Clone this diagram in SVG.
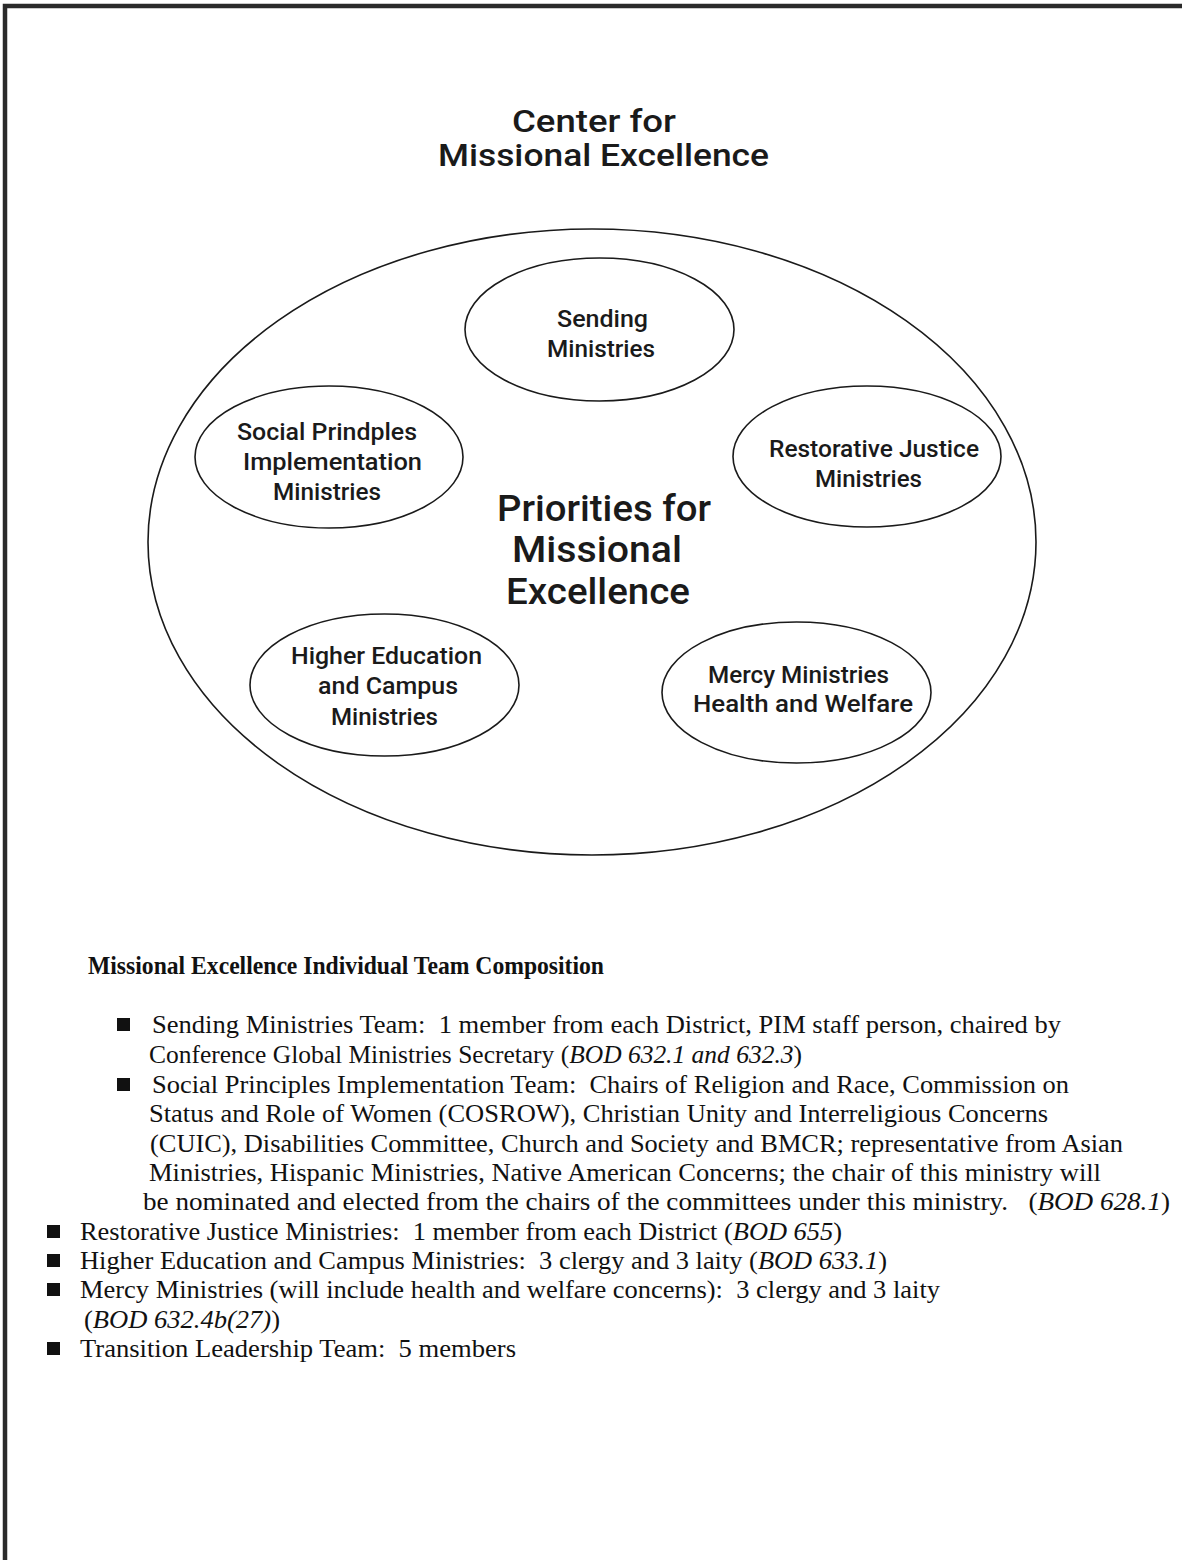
<svg xmlns="http://www.w3.org/2000/svg" width="1182" height="1560" viewBox="0 0 1182 1560">
  <style>
    .sans { font-family: Roboto, "Liberation Sans", Arial, sans-serif; font-weight: 500; fill: #1a1a1a; }
    .title { font-size: 31px; }
    .center { font-size: 36px; }
    .lbl { font-size: 24px; }
    .ell { fill: none; stroke: #1a1a1a; stroke-width: 1.6; }
    .head { font-family: "Liberation Serif", "Times New Roman", serif; font-weight: bold; font-size: 26px; fill: #111; }
    .body { font-family: "Liberation Serif", "Times New Roman", serif; font-size: 25px; fill: #111; }
    .it { font-style: italic; }
    .bul { fill: #111; }
  </style>
  <rect x="0" y="0" width="1182" height="1560" fill="#ffffff"/>
  <path d="M5 1560 V6 H1182" fill="none" stroke="#2a2a2a" stroke-width="4.5"/>

  <g id="title">
    <text class="sans title" x="512" y="132" textLength="164" lengthAdjust="spacingAndGlyphs">Center for</text>
    <text class="sans title" x="438" y="166" textLength="331" lengthAdjust="spacingAndGlyphs">Missional Excellence</text>
  </g>

  <g id="priorities">
    <ellipse class="ell" cx="592" cy="542" rx="444" ry="313"/>
    <text class="sans center" x="497" y="521" textLength="214" lengthAdjust="spacingAndGlyphs">Priorities for</text>
    <text class="sans center" x="512" y="562" textLength="170" lengthAdjust="spacingAndGlyphs">Missional</text>
    <text class="sans center" x="506" y="604" textLength="184" lengthAdjust="spacingAndGlyphs">Excellence</text>
  </g>

  <g id="sending">
    <ellipse class="ell" cx="599.5" cy="329.5" rx="134.5" ry="71.5"/>
    <text class="sans lbl" x="557" y="327" textLength="91" lengthAdjust="spacingAndGlyphs">Sending</text>
    <text class="sans lbl" x="547" y="357" textLength="108" lengthAdjust="spacingAndGlyphs">Ministries</text>
  </g>

  <g id="social">
    <ellipse class="ell" cx="329" cy="457" rx="134" ry="71"/>
    <text class="sans lbl" x="237" y="440" textLength="180" lengthAdjust="spacingAndGlyphs">Social Prindples</text>
    <text class="sans lbl" x="243" y="470" textLength="179" lengthAdjust="spacingAndGlyphs">Implementation</text>
    <text class="sans lbl" x="273" y="500" textLength="108" lengthAdjust="spacingAndGlyphs">Ministries</text>
  </g>

  <g id="restorative">
    <ellipse class="ell" cx="867" cy="456.5" rx="134" ry="70.5"/>
    <text class="sans lbl" x="769" y="457" textLength="210" lengthAdjust="spacingAndGlyphs">Restorative Justice</text>
    <text class="sans lbl" x="815" y="487" textLength="107" lengthAdjust="spacingAndGlyphs">Ministries</text>
  </g>

  <g id="higher-education">
    <ellipse class="ell" cx="384.5" cy="685" rx="134.5" ry="71"/>
    <text class="sans lbl" x="291" y="664" textLength="191" lengthAdjust="spacingAndGlyphs">Higher Education</text>
    <text class="sans lbl" x="318" y="694" textLength="140" lengthAdjust="spacingAndGlyphs">and Campus</text>
    <text class="sans lbl" x="331" y="725" textLength="107" lengthAdjust="spacingAndGlyphs">Ministries</text>
  </g>

  <g id="mercy">
    <ellipse class="ell" cx="796.5" cy="692.5" rx="134.5" ry="70.5"/>
    <text class="sans lbl" x="708" y="683" textLength="181" lengthAdjust="spacingAndGlyphs">Mercy Ministries</text>
    <text class="sans lbl" x="693" y="712" textLength="220" lengthAdjust="spacingAndGlyphs">Health and Welfare</text>
  </g>

  <g id="team-composition">
    <text class="head" x="88" y="974" textLength="516" lengthAdjust="spacingAndGlyphs">Missional Excellence Individual Team Composition</text>

    <rect class="bul" x="117" y="1018" width="13" height="13"/>
    <text class="body" xml:space="preserve" x="152" y="1033" textLength="909" lengthAdjust="spacingAndGlyphs">Sending Ministries Team:  1 member from each District, PIM staff person, chaired by</text>
    <text class="body" xml:space="preserve" x="149" y="1063" textLength="653" lengthAdjust="spacingAndGlyphs">Conference Global Ministries Secretary (<tspan class="it">BOD 632.1 and 632.3</tspan>)</text>

    <rect class="bul" x="117" y="1078" width="13" height="13"/>
    <text class="body" xml:space="preserve" x="152" y="1093" textLength="917" lengthAdjust="spacingAndGlyphs">Social Principles Implementation Team:  Chairs of Religion and Race, Commission on</text>
    <text class="body" xml:space="preserve" x="149" y="1122" textLength="899" lengthAdjust="spacingAndGlyphs">Status and Role of Women (COSROW), Christian Unity and Interreligious Concerns</text>
    <text class="body" xml:space="preserve" x="150" y="1152" textLength="973" lengthAdjust="spacingAndGlyphs">(CUIC), Disabilities Committee, Church and Society and BMCR; representative from Asian</text>
    <text class="body" xml:space="preserve" x="149" y="1181" textLength="952" lengthAdjust="spacingAndGlyphs">Ministries, Hispanic Ministries, Native American Concerns; the chair of this ministry will</text>
    <text class="body" xml:space="preserve" x="143" y="1210" textLength="1027" lengthAdjust="spacingAndGlyphs">be nominated and elected from the chairs of the committees under this ministry.   (<tspan class="it">BOD 628.1</tspan>)</text>

    <rect class="bul" x="47" y="1225" width="13" height="13"/>
    <text class="body" xml:space="preserve" x="80" y="1240" textLength="762" lengthAdjust="spacingAndGlyphs">Restorative Justice Ministries:  1 member from each District (<tspan class="it">BOD 655</tspan>)</text>
    <rect class="bul" x="47" y="1254" width="13" height="13"/>
    <text class="body" xml:space="preserve" x="80" y="1269" textLength="807" lengthAdjust="spacingAndGlyphs">Higher Education and Campus Ministries:  3 clergy and 3 laity (<tspan class="it">BOD 633.1</tspan>)</text>
    <rect class="bul" x="47" y="1283" width="13" height="13"/>
    <text class="body" xml:space="preserve" x="80" y="1298" textLength="860" lengthAdjust="spacingAndGlyphs">Mercy Ministries (will include health and welfare concerns):  3 clergy and 3 laity</text>
    <text class="body" xml:space="preserve" x="84" y="1328" textLength="196" lengthAdjust="spacingAndGlyphs">(<tspan class="it">BOD 632.4b(27)</tspan>)</text>
    <rect class="bul" x="47" y="1342" width="13" height="13"/>
    <text class="body" xml:space="preserve" x="80" y="1357" textLength="436" lengthAdjust="spacingAndGlyphs">Transition Leadership Team:  5 members</text>
  </g>
</svg>
